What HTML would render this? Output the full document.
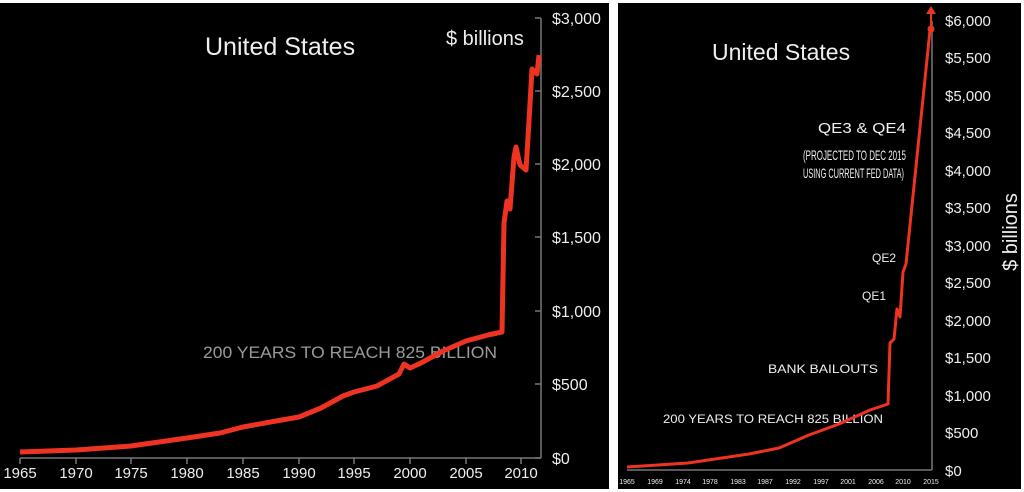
<!DOCTYPE html>
<html><head><meta charset="utf-8"><style>
html,body{margin:0;padding:0;background:#fff;width:1024px;height:492px;overflow:hidden}
svg{display:block}
text{font-family:"Liberation Sans",sans-serif;fill:#eee}
</style></head><body>
<svg width="1024" height="492" viewBox="0 0 1024 492">
<rect x="0" y="0" width="1024" height="492" fill="#fff"/>
<rect x="0" y="3" width="609" height="486" fill="#000"/>
<rect x="618" y="3" width="403" height="486" fill="#000"/>
<!-- LEFT -->
<g stroke="#777" stroke-width="1.5" fill="none">
<line x1="541" y1="18" x2="541" y2="458"/>
<line x1="20" y1="458" x2="541" y2="458"/>
<path d="M535 18h6M535 91h6M535 164h6M535 237h6M535 311h6M535 384h6M535 458h6"/>
<path d="M20 458v6M76 458v6M131 458v6M187 458v6M243 458v6M299 458v6M354 458v6M410 458v6M466 458v6M521 458v6"/>
</g>
<g font-size="16" text-anchor="start">
<text x="552" y="24">$3,000</text><text x="552" y="97">$2,500</text><text x="552" y="170">$2,000</text>
<text x="552" y="243">$1,500</text><text x="552" y="317">$1,000</text><text x="552" y="390">$500</text><text x="552" y="464">$0</text>
</g>
<g font-size="15" text-anchor="middle">
<text x="20" y="478">1965</text><text x="76" y="478">1970</text><text x="131" y="478">1975</text><text x="187" y="478">1980</text><text x="243" y="478">1985</text><text x="299" y="478">1990</text><text x="354" y="478">1995</text><text x="410" y="478">2000</text><text x="466" y="478">2005</text><text x="521" y="478">2010</text>
</g>
<text x="205" y="55" font-size="25">United States</text>
<text x="446" y="45" font-size="20">$ billions</text>
<text x="203" y="358" font-size="17" textLength="294" lengthAdjust="spacingAndGlyphs" style="fill:#9a9a9a">200 YEARS TO REACH 825 BILLION</text>
<polyline fill="none" stroke="#ee3322" stroke-width="5" stroke-linejoin="round" points="20,452 76,450 131,446 187,438 220,433 243,427 276,421 299,417 321,408 343,396 354,392 377,386 399,374 404,364 410,368 421,363 443,351 466,341 488,335 502,332 504,223 507,201 510,209 514,157 516,147 520,165 526,170 529,121 532,69 537,74 539,55"/>
<!-- RIGHT -->
<g stroke="#777" stroke-width="1.5" fill="none">
<line x1="932" y1="21" x2="932" y2="470"/>
<line x1="627" y1="470" x2="932" y2="470"/>
</g>
<g font-size="15">
<text x="945" y="26">$6,000</text><text x="945" y="63">$5,500</text><text x="945" y="101">$5,000</text><text x="945" y="138">$4,500</text><text x="945" y="176">$4,000</text><text x="945" y="213">$3,500</text><text x="945" y="251">$3,000</text><text x="945" y="288">$2,500</text><text x="945" y="326">$2,000</text><text x="945" y="363">$1,500</text><text x="945" y="401">$1,000</text><text x="945" y="438">$500</text><text x="945" y="476">$0</text>
</g>
<g font-size="7" text-anchor="middle">
<text x="627" y="484">1965</text><text x="655" y="484">1969</text><text x="683" y="484">1974</text><text x="710" y="484">1978</text><text x="738" y="484">1983</text><text x="765" y="484">1987</text><text x="793" y="484">1992</text><text x="821" y="484">1997</text><text x="848" y="484">2001</text><text x="876" y="484">2006</text><text x="903" y="484">2010</text><text x="931" y="484">2015</text>
</g>
<text x="712" y="60" font-size="23">United States</text>
<text transform="translate(1017,232) rotate(-90)" font-size="20" text-anchor="middle">$ billions</text>
<g font-size="12">
<text x="818" y="133" font-size="15" textLength="88" lengthAdjust="spacingAndGlyphs">QE3 &amp; QE4</text>
<text x="803" y="160" font-size="14" textLength="103" lengthAdjust="spacingAndGlyphs">(PROJECTED TO  DEC 2015</text>
<text x="803" y="178" font-size="14" textLength="101" lengthAdjust="spacingAndGlyphs">USING CURRENT FED DATA)</text>
<text x="872" y="262">QE2</text>
<text x="862" y="300">QE1</text>
<text x="768" y="373" textLength="110" lengthAdjust="spacingAndGlyphs">BANK BAILOUTS</text>
<text x="663" y="423" textLength="220" lengthAdjust="spacingAndGlyphs">200 YEARS TO REACH 825 BILLION</text>
</g>
<polyline fill="none" stroke="#ee3322" stroke-width="3" stroke-linejoin="round" points="627,467 688,463 749,454 779,448 809,435 839,424 870,410 888,404 890,343 894,339 897,309 900,317 903,272 906,264 930,30"/>
<line x1="931" y1="30" x2="931" y2="10" stroke="#ee3322" stroke-width="2"/>
<path d="M926 14 L931 6 L936 14 Z" fill="#ee3322"/>
<circle cx="931" cy="29" r="3.5" fill="#ee3322"/>
</svg>
</body></html>
